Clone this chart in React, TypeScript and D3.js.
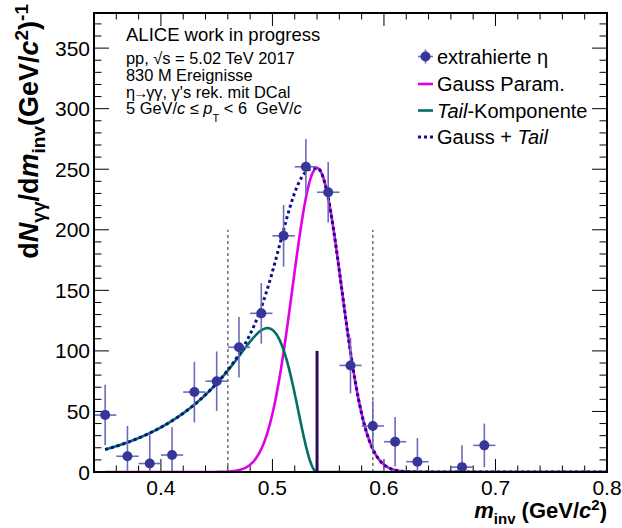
import React from "react";
import * as d3 from "d3";

// ---- data ----
const binCenters = [0.35, 0.37, 0.39, 0.41, 0.43, 0.45, 0.47, 0.49, 0.51, 0.53, 0.55, 0.57, 0.59, 0.61, 0.63, 0.67, 0.69];
const yieldValues = [47, 13, 7, 14, 66, 75, 103, 131, 195, 252, 231, 88, 38, 25, 8.5, 4, 22];
const yieldErrors = [25, 25, 24, 23, 25, 24.5, 25, 25, 25.5, 23, 25, 23, 21, 20.5, 19.5, 18, 18];
const binHalfWidth = 0.01;

// fit parameters (Gauss + exponential tail)
const fitAmplitude = 251;
const fitMean = 0.54;
const fitSigma = 0.022;
const fitLambda = 0.073;
const fitRange = [0.35, 0.8];
const integrationWindow = [0.46, 0.59];
const windowHeight = 200;
const meanMarkerHeight = 100;

const xTickLabels = ["0.4", "0.5", "0.6", "0.7", "0.8"];
const yTickLabels = ["0", "50", "100", "150", "200", "250", "300", "350"];

const legendLabels = ["extrahierte η", "Gauss Param.", "Tail-Komponente", "Gauss + Tail"];

// ---- layout ----
const W = 622, H = 528;
const left = 94, right = 607, top = 13, bottom = 472;
const FONT = "'Liberation Sans', Arial, Helvetica, sans-serif";

const COL_MARK = "#35359a";
const COL_ERR = "#6b6bb8";
const COL_MAG = "#e000ea";
const COL_TEAL = "#007066";
const COL_TOT = "#10108c";
const COL_MEAN = "#2c0b5c";

function gauss(x: number) {
  return fitAmplitude * Math.exp(-0.5 * ((x - fitMean) / fitSigma) ** 2);
}
function tail(x: number) {
  if (x >= fitMean) return 0;
  const g = Math.exp(-0.5 * ((x - fitMean) / fitSigma) ** 2);
  return fitAmplitude * Math.exp((x - fitMean) / fitLambda) * (1 - g);
}

export default function App() {
  const x = d3.scaleLinear().domain([0.34, 0.8]).range([left, right]);
  const y = d3.scaleLinear().domain([0, 379]).range([bottom, top]);

  const xs = d3.range(0, 901).map((i) => fitRange[0] + ((fitRange[1] - fitRange[0]) * i) / 900);
  const line = d3
    .line<number>()
    .x((d) => x(d))
    .curve(d3.curveLinear);
  const gaussPath = line.y((d) => y(gauss(d)))(xs) as string;
  const tailPath = line.y((d) => y(tail(d)))(xs) as string;
  const totalPath = line.y((d) => y(gauss(d) + tail(d)))(xs) as string;

  const xMajor = xTickLabels.map((t) => +t);
  const xMinor = d3.range(0, 24).map((i) => 0.34 + i * 0.02).filter((v) => !xMajor.some((m) => Math.abs(m - v) < 1e-6));
  const yMajor = yTickLabels.map((t) => +t);
  const yMinor = d3.range(0, 38).map((i) => i * 10).filter((v) => v % 50 !== 0);

  const xMajLen = 13, xMinLen = 6.5, yMajLen = 15, yMinLen = 7.5;

  const legendRows = [56.5, 84, 110.5, 137];
  const lx0 = 418, lx1 = 433, ltx = 437;

  return (
    <svg width={W} height={H} style={{ position: "absolute", left: 0, top: 0, background: "#fff" }} fontFamily={FONT}>
      <defs>
        <clipPath id="plotclip">
          <rect x={left} y={top} width={right - left} height={bottom - top} />
        </clipPath>
      </defs>
      <rect x={0} y={0} width={W} height={H} fill="#fff" />

      {/* ticks */}
      <g stroke="#000" strokeWidth={1}>
        {xMajor.map((v) => (
          <g key={"xM" + v}>
            <line x1={x(v)} x2={x(v)} y1={bottom} y2={bottom - xMajLen} />
            <line x1={x(v)} x2={x(v)} y1={top} y2={top + xMajLen} />
          </g>
        ))}
        {xMinor.map((v) => (
          <g key={"xm" + v}>
            <line x1={x(v)} x2={x(v)} y1={bottom} y2={bottom - xMinLen} />
            <line x1={x(v)} x2={x(v)} y1={top} y2={top + xMinLen} />
          </g>
        ))}
        {yMajor.map((v) => (
          <g key={"yM" + v}>
            <line x1={left} x2={left + yMajLen} y1={y(v)} y2={y(v)} />
            <line x1={right} x2={right - yMajLen} y1={y(v)} y2={y(v)} />
          </g>
        ))}
        {yMinor.map((v) => (
          <g key={"ym" + v}>
            <line x1={left} x2={left + yMinLen} y1={y(v)} y2={y(v)} />
            <line x1={right} x2={right - yMinLen} y1={y(v)} y2={y(v)} />
          </g>
        ))}
      </g>

      {/* tick labels */}
      <g fontSize={21} fill="#000">
        {xTickLabels.map((t) => (
          <text key={"xl" + t} x={x(+t)} y={495} textAnchor="middle">
            {t}
          </text>
        ))}
        {yTickLabels.map((t) => (
          <text key={"yl" + t} x={90} y={y(+t) + 7.5} textAnchor="end">
            {t}
          </text>
        ))}
      </g>

      <g clipPath="url(#plotclip)">
        {/* integration window */}
        {integrationWindow.map((v) => (
          <line key={"w" + v} x1={x(v)} x2={x(v)} y1={y(0)} y2={y(windowHeight)} stroke="#7a7a7a" strokeWidth={1.6} strokeDasharray="3,3" />
        ))}
        <path d={gaussPath} fill="none" stroke={COL_MAG} strokeWidth={2.6} />
        <path d={tailPath} fill="none" stroke={COL_TEAL} strokeWidth={2.6} />
        <line x1={x(fitMean)} x2={x(fitMean)} y1={y(0)} y2={y(meanMarkerHeight)} stroke={COL_MEAN} strokeWidth={3} />
        <path d={totalPath} fill="none" stroke={COL_TOT} strokeWidth={3} strokeDasharray="3,3" />

        {/* data points */}
        {binCenters.map((c, i) => (
          <g key={"p" + i}>
            <line x1={x(c - binHalfWidth)} x2={x(c + binHalfWidth)} y1={y(yieldValues[i])} y2={y(yieldValues[i])} stroke={COL_ERR} strokeWidth={1.6} />
            <line x1={x(c)} x2={x(c)} y1={y(yieldValues[i] - yieldErrors[i])} y2={y(yieldValues[i] + yieldErrors[i])} stroke={COL_ERR} strokeWidth={1.6} />
            <circle cx={x(c)} cy={y(yieldValues[i])} r={5} fill={COL_MARK} />
          </g>
        ))}
      </g>

      {/* frame */}
      <rect x={left} y={top} width={right - left} height={bottom - top} fill="none" stroke="#000" strokeWidth={2} />

      {/* info text */}
      <g fill="#000">
        <text x={126} y={41} fontSize={18.5}>ALICE work in progress</text>
        <text x={126} y={64} fontSize={16.4}>pp, √s = 5.02 TeV 2017</text>
        <text x={126} y={81} fontSize={16.4}>830 M Ereignisse</text>
        <text x={126} y={97.5} fontSize={16.4}>
          η<tspan dx={-2} fontSize={15}>→</tspan>
          <tspan dx={-2}>γγ, γ's rek. mit DCal</tspan>
        </text>
        <text x={126} y={113.5} fontSize={16.4}>
          5 GeV/<tspan fontStyle="italic">c</tspan> ≤ <tspan fontStyle="italic">p</tspan>
          <tspan fontSize={11} dy={8}>T</tspan>
          <tspan dy={-8}>{"\u00a0<\u00a06\u00a0\u00a0GeV/"}</tspan>
          <tspan fontStyle="italic">c</tspan>
        </text>
      </g>

      {/* legend */}
      <g fontSize={20} fill="#000">
        <line x1={lx0} x2={lx1} y1={legendRows[0]} y2={legendRows[0]} stroke={COL_ERR} strokeWidth={1.6} />
        <line x1={(lx0 + lx1) / 2} x2={(lx0 + lx1) / 2} y1={legendRows[0] - 7} y2={legendRows[0] + 7} stroke={COL_ERR} strokeWidth={1.6} />
        <circle cx={(lx0 + lx1) / 2} cy={legendRows[0]} r={5} fill={COL_MARK} />
        <text x={ltx} y={legendRows[0] + 7}>{legendLabels[0]}</text>

        <line x1={lx0} x2={lx1} y1={legendRows[1]} y2={legendRows[1]} stroke={COL_MAG} strokeWidth={2.6} />
        <text x={ltx} y={legendRows[1] + 7}>{legendLabels[1]}</text>

        <line x1={lx0} x2={lx1} y1={legendRows[2]} y2={legendRows[2]} stroke={COL_TEAL} strokeWidth={2.6} />
        <text x={ltx} y={legendRows[2] + 7}>
          <tspan fontStyle="italic">Tail</tspan>-Komponente
        </text>

        <line x1={lx0} x2={lx1} y1={legendRows[3]} y2={legendRows[3]} stroke={COL_TOT} strokeWidth={3} strokeDasharray="3,3" />
        <text x={ltx} y={legendRows[3] + 7}>
          Gauss + <tspan fontStyle="italic">Tail</tspan>
        </text>
      </g>

      {/* x title */}
      <text x={607} y={518} textAnchor="end" fontSize={22} fontWeight="bold" fill="#000">
        <tspan fontStyle="italic">m</tspan>
        <tspan fontSize={15} dy={6}>inv</tspan>
        <tspan dy={-6}> (GeV/</tspan>
        <tspan fontStyle="italic">c</tspan>
        <tspan fontSize={15} dy={-8}>2</tspan>
        <tspan dy={8}>)</tspan>
      </text>

      {/* y title */}
      <text transform="translate(38,4) rotate(-90)" textAnchor="end" fontSize={27} fontWeight="bold" fill="#000">
        d<tspan fontStyle="italic">N</tspan>
        <tspan fontSize={19} dy={7}>γγ</tspan>
        <tspan dy={-7}>/d</tspan>
        <tspan fontStyle="italic">m</tspan>
        <tspan fontSize={19} dy={7}>inv</tspan>
        <tspan dy={-7}>(GeV/</tspan>
        <tspan fontStyle="italic">c</tspan>
        <tspan fontSize={19} dy={-10}>2</tspan>
        <tspan dy={10}>)</tspan>
        <tspan fontSize={19} dy={-10}>-1</tspan>
      </text>
    </svg>
  );
}
